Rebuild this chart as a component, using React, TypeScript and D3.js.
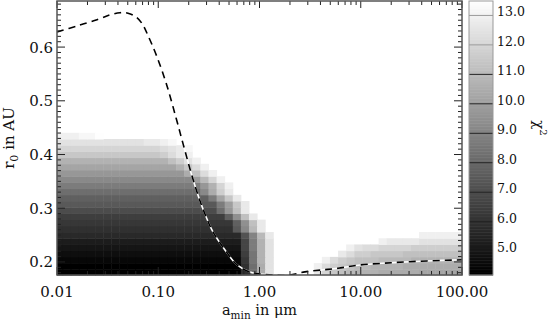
import React from "react"
import * as d3 from "d3"

// frame of the plot and of the colour bar, in page pixels
const left = 57, right = 462, top = 1, bottom = 275
const cbLeft = 469, cbRight = 493

const xDomain = [0.01, 100]
const yDomain = [0.1757, 0.6858]
const chiRange = [4.19, 13.49]

const xTickValues = [0.01, 0.1, 1, 10, 100]
const xTickLabels = ["0.01", "0.10", "1.00", "10.00", "100.00"]
const yTickValues = [0.2, 0.3, 0.4, 0.5, 0.6]
const yTickLabels = ["0.2", "0.3", "0.4", "0.5", "0.6"]
const cbTickValues = [5, 6, 7, 8, 9, 10, 11, 12, 13]
const cbTickLabels = ["5.0", "6.0", "7.0", "8.0", "9.0", "10.0", "11.0", "12.0", "13.0"]

// dashed curve r0(a_min)
const curveAmin = [0.01, 0.01576, 0.02483, 0.03337, 0.04188, 0.05022, 0.06026, 0.06911, 0.0792, 0.0966,
  0.121, 0.15, 0.177, 0.214, 0.258, 0.303, 0.347, 0.456, 0.6, 0.805,
  1.08, 1.42, 1.91, 2.81, 4.11, 5.96, 9.39, 20.8, 45.1, 100]
const curveR0 = [0.6282, 0.6394, 0.6511, 0.6599, 0.664, 0.6631, 0.6562, 0.644, 0.6216, 0.583,
  0.53, 0.468, 0.418, 0.362, 0.314, 0.28, 0.256, 0.2224, 0.1944, 0.1813,
  0.177, 0.1752, 0.1752, 0.1815, 0.1851, 0.1882, 0.194, 0.1987, 0.2019, 0.204]

// chi^2 grid: one string per r0 row (bottom row first), one char per a_min column
// char -> chi^2 = 4.2 + 0.25 * index in levelCodes, "." = off the scale (white)
const gridLogA0 = -2.024
const gridLogAStep = 0.08
const gridR00 = 0.1748
const gridR0Step = 0.01155
const levelCodes = "0123456789abcdefghijklmnopqrstuvwxyzAB"
const levelChi0 = 4.2
const levelChiStep = 0.25
const chiRows = [
  "000000000000000000000007gpx.....yvtsrqqqpppppoooooo",
  "000000000000000000000007gpx.....zwutsrrqqqqpppppppp",
  "111111111111111111111118hqx......zwutsssrrrrqqqqqqq",
  "222222222222222222222229hqx........ywuuttttssssssss",
  "33333333333333333333333aiqx.........zxwwvvvvuuuuuuu",
  "44444444444444444444444aiqx.............zyyyyxxxxxx",
  "66666666666666666666666cjry..................zzzzzz",
  "7777777777777777777777dkry",
  "8888888888888888888888elsy",
  "999999999999999999999elsy",
  "bbbbbbbbbbbbbbbbbbbbgmsy",
  "ddddddddddddddddddddinty",
  "eeeeeeeeeeeeeeeeeeeioty",
  "ggggggggggggggggggkpuy",
  "iiiiiiiiiiiiiiiiiimqvz",
  "kkkkkkkkkkkkkkkkknrvz",
  "mmmmmmmmmmmmmmmmpswz",
  "oooooooooooooooqtwz",
  "qqqqqqqqqqqqqqsuxz",
  "tttttttttttttuwyz",
  "vvvvvvvvvvvvvwxyA",
  "xxxxxxxxxxxyyzA",
  "zzzAAB",
]

const font = "DejaVu Serif"

function App() {
  const x = d3.scaleLog().domain(xDomain).range([left, right])
  const y = d3.scaleLinear().domain(yDomain).range([bottom, top])
  const yc = d3.scaleLinear().domain(chiRange).range([bottom, top])
  const gray = d3.scaleLinear<string>().domain(chiRange).range(["#000000", "#ffffff"]).clamp(true)

  const cells: JSX.Element[] = []
  chiRows.forEach((row, r) => {
    for (let c = 0; c < row.length; c++) {
      const k = levelCodes.indexOf(row[c])
      if (k < 0) continue
      const chi = levelChi0 + k * levelChiStep
      const x0 = Math.max(left, x(Math.pow(10, gridLogA0 + c * gridLogAStep)))
      const x1 = Math.min(right, x(Math.pow(10, gridLogA0 + (c + 1) * gridLogAStep)))
      const y0 = Math.min(bottom, y(gridR00 + r * gridR0Step))
      const y1 = Math.max(top, y(gridR00 + (r + 1) * gridR0Step))
      if (x1 <= x0) continue
      cells.push(
        <rect key={r + "-" + c} x={x0} y={y1} width={x1 - x0 + 0.5} height={y0 - y1 + 0.5} fill={gray(chi)} />
      )
    }
  })

  const idx = d3.range(curveAmin.length)
  const line = d3.line<number>()
    .x(i => x(curveAmin[i]))
    .y(i => y(curveR0[i]))
    .curve(d3.curveCatmullRom.alpha(0.5))
  const path = line(idx) || ""

  const xMinor: number[] = []
  for (let d = -2; d < 2; d++) for (let m = 2; m <= 9; m++) xMinor.push(m * Math.pow(10, d))
  const yMinor = d3.range(18, 69).map(v => v / 100).filter(v => v >= yDomain[0] && v <= yDomain[1])

  const cbSteps = d3.range(chiRange[0], chiRange[1], 0.05)

  return (
    <svg width={549} height={322} style={{ position: "absolute", left: 0, top: 0, background: "#fff" }}
      fontFamily={font}>
      <defs>
        <clipPath id="plotClip">
          <rect x={left} y={top} width={right - left} height={bottom - top} />
        </clipPath>
      </defs>
      <g>{cells}</g>
      <g clipPath="url(#plotClip)">
        <path d={path} fill="none" stroke="#fff" strokeWidth={1.6} />
        <path d={path} fill="none" stroke="#000" strokeWidth={1.6} strokeDasharray="7,5" />
      </g>

      {/* ticks */}
      <g stroke="#222" strokeWidth={1}>
        {yMinor.map(v => {
          const major = yTickValues.some(t => Math.abs(t - v) < 1e-6)
          const len = major ? 8 : 4
          return (
            <g key={"ym" + v}>
              <line x1={left} x2={left + len} y1={y(v)} y2={y(v)} />
              <line x1={right} x2={right - len} y1={y(v)} y2={y(v)} />
            </g>
          )
        })}
        {xMinor.map(v => (
          <g key={"xm" + v}>
            <line x1={x(v)} x2={x(v)} y1={bottom} y2={bottom - 4} />
            <line x1={x(v)} x2={x(v)} y1={top} y2={top + 4} />
          </g>
        ))}
        {xTickValues.map(v => (
          <g key={"xM" + v}>
            <line x1={x(v)} x2={x(v)} y1={bottom} y2={bottom - 8} />
            <line x1={x(v)} x2={x(v)} y1={top} y2={top + 7} />
          </g>
        ))}
      </g>
      <rect x={left} y={top} width={right - left} height={bottom - top} fill="none" stroke="#555" strokeWidth={1.5} />

      {/* tick labels */}
      <g fontSize={15} fill="#111">
        {xTickValues.map((v, i) => (
          <text key={"xl" + v} x={x(v)} y={297} textAnchor="middle">{xTickLabels[i]}</text>
        ))}
        {yTickValues.map((v, i) => (
          <text key={"yl" + v} x={53} y={y(v) + 5.5} textAnchor="end">{yTickLabels[i]}</text>
        ))}
      </g>

      {/* axis titles */}
      <text x={(left + right) / 2} y={315} textAnchor="middle" fontSize={14.5} fill="#111">
        a<tspan fontSize={10.5} dy={3.5}>min</tspan><tspan dy={-3.5}> in </tspan>μm
      </text>
      <text transform={`translate(14,${(top + bottom) / 2}) rotate(-90)`} textAnchor="middle" fontSize={15} fill="#111">
        r<tspan fontSize={11} dy={4}>0</tspan><tspan dy={-4}> in AU</tspan>
      </text>

      {/* colour bar */}
      <g>
        {cbSteps.map(v => (
          <rect key={"cb" + v} x={cbLeft} y={yc(v + 0.05)} width={cbRight - cbLeft}
            height={yc(v) - yc(v + 0.05) + 0.5} fill={gray(v)} />
        ))}
        {cbTickValues.map(v => (
          <line key={"cbt" + v} x1={cbLeft} x2={cbRight} y1={yc(v)} y2={yc(v)}
            stroke={v >= 12 ? "#999" : "#222"} strokeWidth={1} />
        ))}
        <rect x={cbLeft} y={top} width={cbRight - cbLeft} height={bottom - top} fill="none" stroke="#999" strokeWidth={1} />
        {cbTickValues.map((v, i) => (
          <text key={"cbl" + v} x={497} y={yc(v) + 1} fontSize={12.5} fill="#111">{cbTickLabels[i]}</text>
        ))}
      </g>
      <text transform={`translate(534,128) rotate(90)`} textAnchor="middle" fontSize={15} fill="#111">
        χ<tspan fontSize={10} dy={-6}>2</tspan>
      </text>
    </svg>
  )
}

export default App
